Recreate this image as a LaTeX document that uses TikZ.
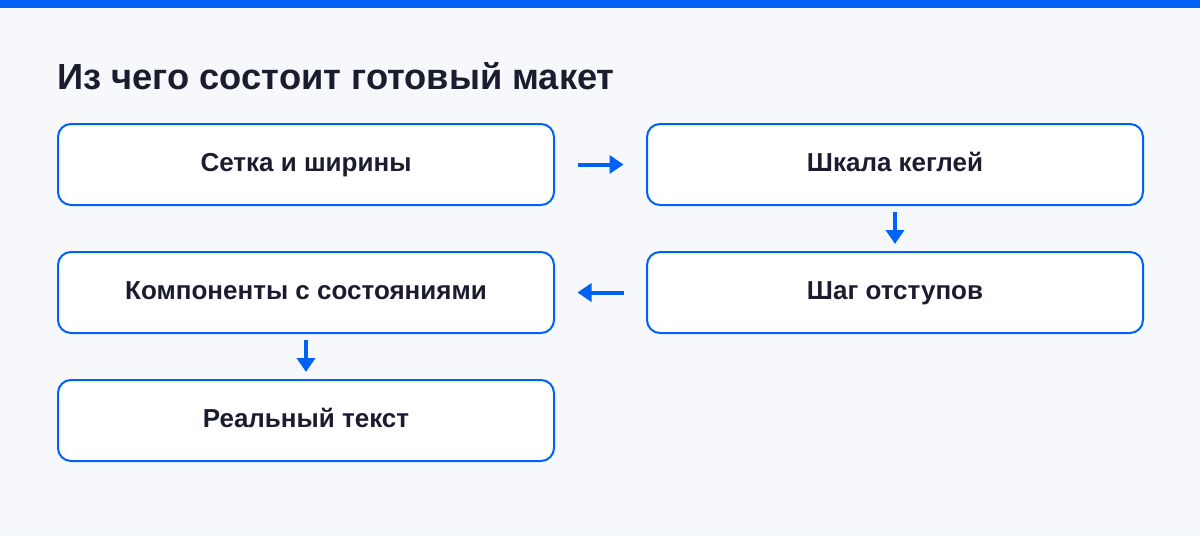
\documentclass[tikz,border=0pt]{standalone}
\usepackage{fontspec}
\setmainfont{Liberation Sans}
\usetikzlibrary{arrows.meta,positioning}
\definecolor{sinij}{RGB}{0,98,245}
\definecolor{fon}{RGB}{246,248,252}
\definecolor{tekst}{RGB}{27,29,47}
\tikzset{
    %Define standard arrow tip
    >={Triangle[length=14pt,width=18pt]},
    %Define style for boxes
    blok/.style={
           rectangle,
           rounded corners=13pt,
           draw=sinij,
           line width=2pt,
           fill=white,
           text=tekst,
           font=\bfseries\fontsize{26}{30}\selectfont,
           minimum width=496pt,
           minimum height=81pt,
           text height=18pt,
           text depth=4pt,
           inner sep=0pt,
           text centered},
    % Define arrow style
    pil/.style={
           ->,
           draw=sinij,
           line width=4pt},
    pilgor/.style={pil,
           shorten <=22.5pt,
           shorten >=22.5pt},
    pilvert/.style={pil,
           shorten <=6pt,
           shorten >=7pt}
}
\begin{document}
\begin{tikzpicture}[node distance=45pt and 91pt]
  % background and top bar
  \fill[fon] (0pt,0pt) rectangle (1200pt,-536pt);
  \useasboundingbox (0pt,0pt) rectangle (1200pt,-536pt);
  \fill[sinij] (0pt,0pt) rectangle (1200pt,-8pt);
  \node[anchor=base west,inner sep=0pt,text=tekst,
        font=\bfseries\fontsize{36.3}{44}\selectfont] (zagolovok) at (57pt,-89.5pt)
        {Из чего состоит готовый макет};
  \node[blok] (setka) at (306pt,-164.5pt) {Сетка и ширины};
  \node[blok,right=of setka] (shkala) {Шкала кеглей};
  \node[blok,below=of shkala] (otstupy) {Шаг отступов};
  \node[blok,below=of setka] (komponenty) {Компоненты с состояниями};
  \node[blok,below=of komponenty] (realnyj) {Реальный текст};
  \draw[pilgor] (setka) -- (shkala);
  \draw[pilvert] (shkala) -- (otstupy);
  \draw[pilgor] (otstupy) -- (komponenty);
  \draw[pilvert] (komponenty) -- (realnyj);
\end{tikzpicture}
\end{document}
